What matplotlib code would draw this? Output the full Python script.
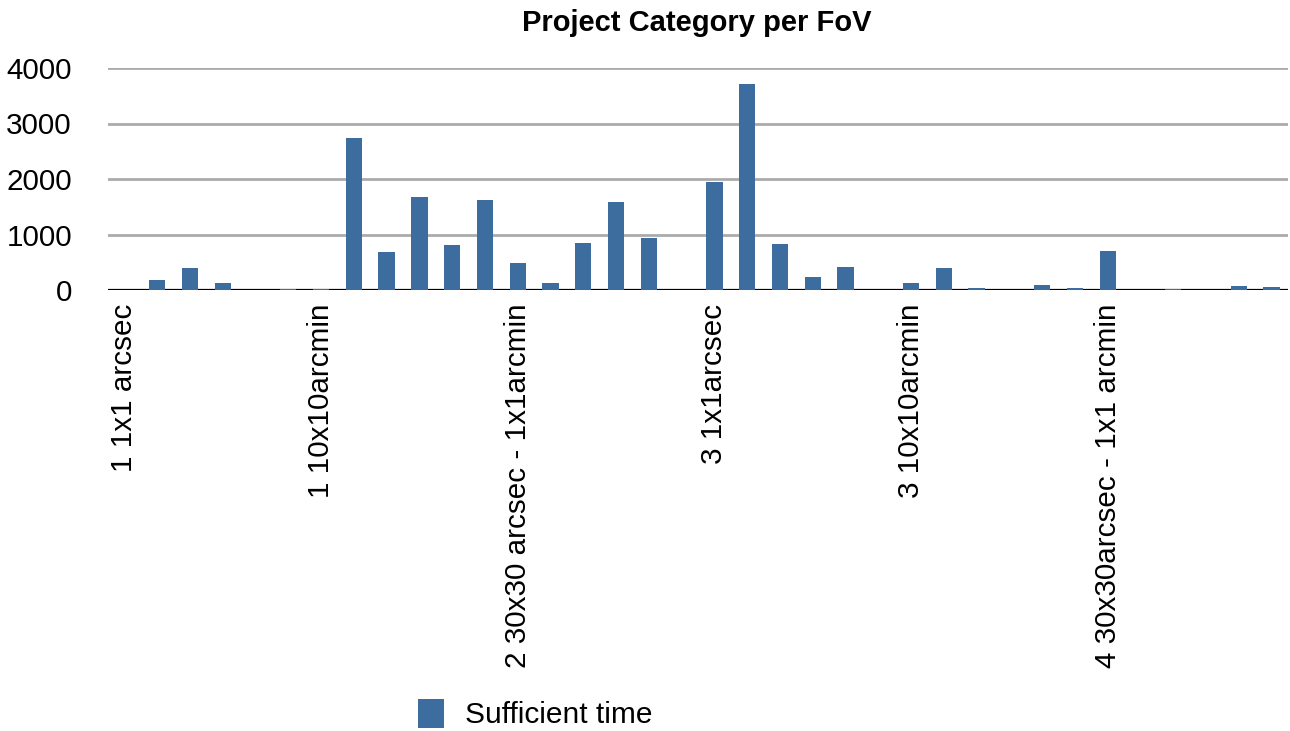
import matplotlib.pyplot as plt
import numpy as np

plt.rcParams['font.family'] = ['Liberation Sans', 'DejaVu Sans']

# Data: 36 categories, only every 6th one is labelled on the axis
tick_labels = ['1 1x1 arcsec', '1 10x10arcmin', '2 30x30 arcsec - 1x1arcmin',
               '3 1x1arcsec', '3 10x10arcmin', '4 30x30arcsec - 1x1 arcmin']
sufficient_time = [0, 187, 404, 133, 0, 25, 25, 2735, 693, 1669, 819, 1614,
                   494, 133, 855, 1578, 928, 0, 1940, 3711, 837, 241, 422, 0,
                   133, 404, 42, 0, 96, 42, 711, 0, 25, 0, 78, 60]

x = np.arange(len(sufficient_time))

fig = plt.figure(figsize=(12.9, 7.31), dpi=100)
ax = fig.add_axes([108 / 1290, 1 - 290 / 731, 1180 / 1290, 222 / 731])

ax.bar(x, sufficient_time, width=0.5, color='#3d6c9e', label='Sufficient time', zorder=3)

ax.set_xlim(-0.5, len(x) - 0.5)
ax.set_ylim(0, 4000)
ax.set_yticks([0, 1000, 2000, 3000, 4000])
ax.yaxis.grid(True, color='#ababab', linewidth=2, zorder=0)
ax.axhline(0, color='black', linewidth=1.6, zorder=2)

ax.set_xticks(x[::6])
ax.set_xticklabels(tick_labels, rotation=90, va='top', ha='center')

for s in ax.spines.values():
    s.set_visible(False)
ax.tick_params(axis='both', length=0, labelsize=21.3)
ax.tick_params(axis='y', pad=26)
ax.tick_params(axis='x', pad=10)

fig.text(0.54, 0.968, 'Project Category per FoV', ha='center', va='center',
         fontsize=21, fontweight='bold')

fig.legend(loc='center', bbox_to_anchor=(535 / 1290, 1 - 714 / 731), frameon=False,
           fontsize=21.5, handlelength=0.87, handleheight=1.15, handletextpad=0.7)

fig.savefig('out.png', dpi=100)
